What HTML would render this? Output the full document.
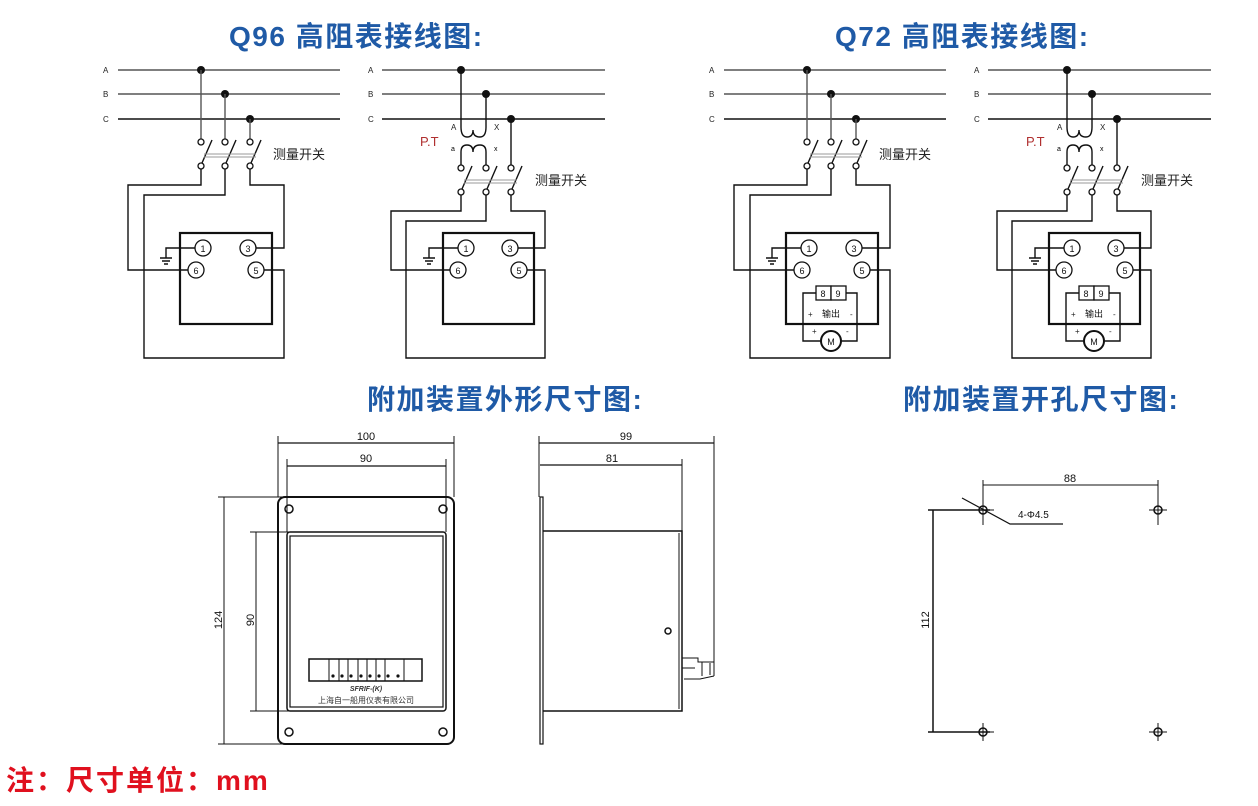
<!DOCTYPE html>
<html><head><meta charset="utf-8"><style>
html,body{margin:0;padding:0;background:#fff;}
svg{display:block;font-family:"Liberation Sans","Noto Sans CJK SC",sans-serif;}
.t{font-weight:bold;fill:#1f5aa6;font-size:28px;letter-spacing:1.5px;}
.w{fill:none;stroke:#555;stroke-width:1.4;}
.k{fill:none;stroke:#111;stroke-width:1.4;}
.b{fill:none;stroke:#111;stroke-width:2.2;}
.s{font-size:8px;fill:#222;}
.n{font-size:9px;fill:#111;text-anchor:middle;}
.c{fill:#fff;stroke:#111;stroke-width:1.3;}
.d{font-size:11px;fill:#111;text-anchor:middle;}
</style></head><body>
<svg width="1258" height="806" viewBox="0 0 1258 806" xmlns="http://www.w3.org/2000/svg">
<text x="229" y="46" class="t">Q96 高阻表接线图:</text>
<text x="835" y="46" class="t">Q72 高阻表接线图:</text>
<text x="367" y="409" class="t">附加装置外形尺寸图:</text>
<text x="903" y="409" class="t">附加装置开孔尺寸图:</text>
<text x="6" y="790" style="font-size:28px;font-weight:bold;fill:#e0101e;letter-spacing:2px">注：尺寸单位：mm</text>

<!-- Diagram 1 -->
<g>
<text x="103" y="73" class="s">A</text><text x="103" y="97" class="s">B</text><text x="103" y="122" class="s">C</text>
<line x1="118" y1="70" x2="340" y2="70" class="w"/><line x1="118" y1="94" x2="340" y2="94" class="w"/><line x1="118" y1="119" x2="340" y2="119" class="k"/>
<circle cx="201" cy="70" r="4" fill="#111"/><circle cx="225" cy="94" r="4" fill="#111"/><circle cx="250" cy="119" r="4" fill="#111"/>
<path d="M201,70V139M225,94V139M250,119V139" class="w"/>
<circle cx="201" cy="142" r="3" class="c"/><circle cx="225" cy="142" r="3" class="c"/><circle cx="250" cy="142" r="3" class="c"/>
<circle cx="201" cy="166" r="3" class="c"/><circle cx="225" cy="166" r="3" class="c"/><circle cx="250" cy="166" r="3" class="c"/>
<path d="M202,163L212,140M226,163L236,140M251,163L261,140" class="k"/>
<path d="M204,154H256M204,157H256" fill="none" stroke="#999" stroke-width="1"/>
<text x="273" y="159" style="font-size:13px;fill:#222">测量开关</text>
<path d="M201,169V185H128V270H188M225,169V195H144V358H284V270H264M250,169V185H284V248H256" class="k"/>
<rect x="180" y="233" width="92" height="91" class="b"/>
<path d="M195,248H166V258M160,258H172M162,261H170M164,264H168" class="k"/>
<circle cx="203" cy="248" r="8" class="c"/><text x="203" y="252" class="n">1</text>
<circle cx="248" cy="248" r="8" class="c"/><text x="248" y="252" class="n">3</text>
<circle cx="196" cy="270" r="8" class="c"/><text x="196" y="274" class="n">6</text>
<circle cx="256" cy="270" r="8" class="c"/><text x="256" y="274" class="n">5</text>
</g>
<!-- Diagram 2 -->
<g>
<text x="368" y="73" class="s">A</text><text x="368" y="97" class="s">B</text><text x="368" y="122" class="s">C</text>
<line x1="382" y1="70" x2="605" y2="70" class="w"/><line x1="382" y1="94" x2="605" y2="94" class="w"/><line x1="382" y1="119" x2="605" y2="119" class="k"/>
<circle cx="461" cy="70" r="4" fill="#111"/><circle cx="486" cy="94" r="4" fill="#111"/><circle cx="511" cy="119" r="4" fill="#111"/>
<path d="M461,70V127Q461,137 467,137Q473,137 473,130Q473,137 480,137Q486,137 486,127V94" class="k"/>
<path d="M461,165V152Q461,145 467,145Q473,145 473,152Q473,145 480,145Q486,145 486,152V165M511,119V165" class="k"/>
<text x="451" y="130" class="s">A</text><text x="494" y="130" class="s">X</text><text x="451" y="151" style="font-size:7px">a</text><text x="494" y="151" style="font-size:7px">x</text>
<text x="420" y="146" style="font-size:13px;fill:#b03030">P.T</text>
<circle cx="461" cy="168" r="3" class="c"/><circle cx="486" cy="168" r="3" class="c"/><circle cx="511" cy="168" r="3" class="c"/>
<circle cx="461" cy="192" r="3" class="c"/><circle cx="486" cy="192" r="3" class="c"/><circle cx="511" cy="192" r="3" class="c"/>
<path d="M462,189L472,166M487,189L497,166M512,189L522,166" class="k"/>
<path d="M464,180H517M464,183H517" fill="none" stroke="#999" stroke-width="1"/>
<text x="535" y="185" style="font-size:13px;fill:#222">测量开关</text>
<path d="M461,195V211H391V270H450M486,195V221H406V358H545V270H527M511,195V211H545V248H518" class="k"/>
<rect x="443" y="233" width="91" height="91" class="b"/>
<path d="M458,248H429V258M423,258H435M425,261H433M427,264H431" class="k"/>
<circle cx="466" cy="248" r="8" class="c"/><text x="466" y="252" class="n">1</text>
<circle cx="510" cy="248" r="8" class="c"/><text x="510" y="252" class="n">3</text>
<circle cx="458" cy="270" r="8" class="c"/><text x="458" y="274" class="n">6</text>
<circle cx="519" cy="270" r="8" class="c"/><text x="519" y="274" class="n">5</text>
</g>

<!-- Diagram 3 -->
<g transform="translate(606,0)">
<text x="103" y="73" class="s">A</text><text x="103" y="97" class="s">B</text><text x="103" y="122" class="s">C</text>
<line x1="118" y1="70" x2="340" y2="70" class="w"/><line x1="118" y1="94" x2="340" y2="94" class="w"/><line x1="118" y1="119" x2="340" y2="119" class="k"/>
<circle cx="201" cy="70" r="4" fill="#111"/><circle cx="225" cy="94" r="4" fill="#111"/><circle cx="250" cy="119" r="4" fill="#111"/>
<path d="M201,70V139M225,94V139M250,119V139" class="w"/>
<circle cx="201" cy="142" r="3" class="c"/><circle cx="225" cy="142" r="3" class="c"/><circle cx="250" cy="142" r="3" class="c"/>
<circle cx="201" cy="166" r="3" class="c"/><circle cx="225" cy="166" r="3" class="c"/><circle cx="250" cy="166" r="3" class="c"/>
<path d="M202,163L212,140M226,163L236,140M251,163L261,140" class="k"/>
<path d="M204,154H256M204,157H256" fill="none" stroke="#999" stroke-width="1"/>
<text x="273" y="159" style="font-size:13px;fill:#222">测量开关</text>
<path d="M201,169V185H128V270H188M225,169V195H144V358H284V270H264M250,169V185H284V248H256" class="k"/>
<rect x="180" y="233" width="92" height="91" class="b"/>
<path d="M195,248H166V258M160,258H172M162,261H170M164,264H168" class="k"/>
<circle cx="203" cy="248" r="8" class="c"/><text x="203" y="252" class="n">1</text>
<circle cx="248" cy="248" r="8" class="c"/><text x="248" y="252" class="n">3</text>
<circle cx="196" cy="270" r="8" class="c"/><text x="196" y="274" class="n">6</text>
<circle cx="256" cy="270" r="8" class="c"/><text x="256" y="274" class="n">5</text>
<path d="M210,293H197V341H215M235,341H251V293H240" class="k"/>
<rect x="210" y="286" width="15" height="14" class="c"/><rect x="225" y="286" width="15" height="14" class="c"/>
<text x="217" y="297" class="n">8</text><text x="232" y="297" class="n">9</text>
<text x="202" y="317" class="s">+</text><text x="225" y="317" class="n">输出</text><text x="244" y="317" class="s">-</text>
<text x="206" y="334" class="s">+</text><text x="240" y="334" class="s">-</text>
<circle cx="225" cy="341" r="10" fill="#fff" stroke="#111" stroke-width="2"/><text x="225" y="345" class="n">M</text>
</g>
<!-- Diagram 4 -->
<g transform="translate(606,0)">
<text x="368" y="73" class="s">A</text><text x="368" y="97" class="s">B</text><text x="368" y="122" class="s">C</text>
<line x1="382" y1="70" x2="605" y2="70" class="w"/><line x1="382" y1="94" x2="605" y2="94" class="w"/><line x1="382" y1="119" x2="605" y2="119" class="k"/>
<circle cx="461" cy="70" r="4" fill="#111"/><circle cx="486" cy="94" r="4" fill="#111"/><circle cx="511" cy="119" r="4" fill="#111"/>
<path d="M461,70V127Q461,137 467,137Q473,137 473,130Q473,137 480,137Q486,137 486,127V94" class="k"/>
<path d="M461,165V152Q461,145 467,145Q473,145 473,152Q473,145 480,145Q486,145 486,152V165M511,119V165" class="k"/>
<text x="451" y="130" class="s">A</text><text x="494" y="130" class="s">X</text><text x="451" y="151" style="font-size:7px">a</text><text x="494" y="151" style="font-size:7px">x</text>
<text x="420" y="146" style="font-size:13px;fill:#b03030">P.T</text>
<circle cx="461" cy="168" r="3" class="c"/><circle cx="486" cy="168" r="3" class="c"/><circle cx="511" cy="168" r="3" class="c"/>
<circle cx="461" cy="192" r="3" class="c"/><circle cx="486" cy="192" r="3" class="c"/><circle cx="511" cy="192" r="3" class="c"/>
<path d="M462,189L472,166M487,189L497,166M512,189L522,166" class="k"/>
<path d="M464,180H517M464,183H517" fill="none" stroke="#999" stroke-width="1"/>
<text x="535" y="185" style="font-size:13px;fill:#222">测量开关</text>
<path d="M461,195V211H391V270H450M486,195V221H406V358H545V270H527M511,195V211H545V248H518" class="k"/>
<rect x="443" y="233" width="91" height="91" class="b"/>
<path d="M458,248H429V258M423,258H435M425,261H433M427,264H431" class="k"/>
<circle cx="466" cy="248" r="8" class="c"/><text x="466" y="252" class="n">1</text>
<circle cx="510" cy="248" r="8" class="c"/><text x="510" y="252" class="n">3</text>
<circle cx="458" cy="270" r="8" class="c"/><text x="458" y="274" class="n">6</text>
<circle cx="519" cy="270" r="8" class="c"/><text x="519" y="274" class="n">5</text>
<path d="M473,293H460V341H478M498,341H514V293H503" class="k"/>
<rect x="473" y="286" width="15" height="14" class="c"/><rect x="488" y="286" width="15" height="14" class="c"/>
<text x="480" y="297" class="n">8</text><text x="495" y="297" class="n">9</text>
<text x="465" y="317" class="s">+</text><text x="488" y="317" class="n">输出</text><text x="507" y="317" class="s">-</text>
<text x="469" y="334" class="s">+</text><text x="503" y="334" class="s">-</text>
<circle cx="488" cy="341" r="10" fill="#fff" stroke="#111" stroke-width="2"/><text x="488" y="345" class="n">M</text>
</g>

<!-- Front view -->
<g fill="none" stroke="#111">
<path d="M278,436V497M454,436V497M287,459V532M446,459V532" stroke-width="1"/>
<path d="M278,443H454M287,466H446" stroke-width="1.3"/>
<path d="M218,497H300M218,744H290M250,532H290M250,711H290M224,497V744M256,532V711" stroke-width="1"/>
<rect x="278" y="497" width="176" height="247" rx="7" stroke-width="2"/>
<rect x="287" y="532" width="159" height="179" rx="3" stroke-width="1.5"/>
<rect x="290" y="536" width="153" height="171" stroke-width="1.2"/>
<circle cx="289" cy="509" r="4" stroke-width="1.5"/><circle cx="443" cy="509" r="4" stroke-width="1.5"/>
<circle cx="289" cy="732" r="4" stroke-width="1.5"/><circle cx="443" cy="732" r="4" stroke-width="1.5"/>
<rect x="309" y="659" width="113" height="22" stroke-width="1.5"/>
<path d="M329,659V681M339,659V681M348,659V681M358,659V681M367,659V681M376,659V681M385,659V681M404,659V681" stroke-width="1"/>
</g>
<g fill="#111"><circle cx="333" cy="676" r="1.6"/><circle cx="342" cy="676" r="1.6"/><circle cx="351" cy="676" r="1.6"/><circle cx="361" cy="676" r="1.6"/><circle cx="370" cy="676" r="1.6"/><circle cx="379" cy="676" r="1.6"/><circle cx="388" cy="676" r="1.6"/><circle cx="398" cy="676" r="1.6"/></g>
<text x="366" y="691" style="font-size:7px;font-style:italic;font-weight:bold;fill:#333" text-anchor="middle">SFRIF-(K)</text>
<text x="366" y="703" style="font-size:8px;fill:#333" text-anchor="middle">上海自一船用仪表有限公司</text>
<text x="366" y="440" class="d">100</text><text x="366" y="462" class="d">90</text>
<text transform="translate(222,620) rotate(-90)" class="d">124</text>
<text transform="translate(254,620) rotate(-90)" class="d">90</text>

<!-- Side view -->
<g fill="none" stroke="#111">
<path d="M539,436V497M714,436V676M682,459V711" stroke-width="1"/>
<path d="M539,443H714M540,465H682" stroke-width="1.3"/>
<rect x="540" y="497" width="3" height="247" stroke-width="1.2"/>
<path d="M543,531H682V711H543" stroke-width="1.5"/>
<path d="M679,533V709" stroke-width="1"/>
<path d="M682,658H698V662H714M714,676L700,679H684M682,668H695M702,662V676M710,663V675" stroke-width="1"/>
<circle cx="668" cy="631" r="3" stroke-width="1.5"/>
</g>
<text x="626" y="440" class="d">99</text><text x="612" y="462" class="d">81</text>

<!-- Cutout -->
<g fill="none" stroke="#111">
<path d="M983,480V525M1158,480V525M983,485H1158" stroke-width="1"/>
<path d="M928,510H990M928,732H990M933,510V732" stroke-width="1.5"/>
<path d="M962,498L1010,524H1063" stroke-width="1.2"/>
<circle cx="983" cy="510" r="4" stroke-width="1.5"/><circle cx="1158" cy="510" r="4" stroke-width="1.5"/>
<circle cx="983" cy="732" r="4" stroke-width="1.5"/><circle cx="1158" cy="732" r="4" stroke-width="1.5"/>
<path d="M976,510H994M983,503V521M1149,510H1167M1158,503V521M976,732H994M983,723V741M1149,732H1167M1158,723V741" stroke-width="1"/>
</g>
<text x="1070" y="482" class="d">88</text>
<text x="1018" y="518" style="font-size:10px;fill:#111">4-Φ4.5</text>
<text transform="translate(929,620) rotate(-90)" class="d">112</text>
</svg>
</body></html>
